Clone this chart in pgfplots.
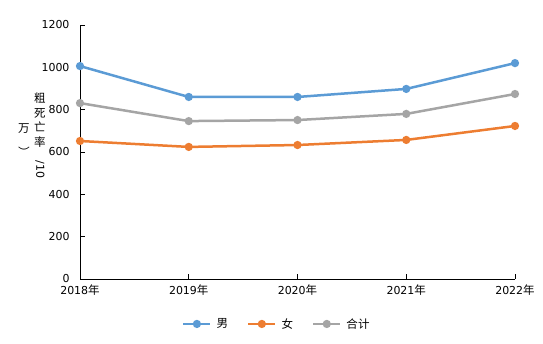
\documentclass[border=0pt]{standalone}
\usepackage{fontspec}
\setmainfont{DejaVu Sans}
\newfontfamily\cjk{Noto Sans CJK SC}[Scale=1.05]
\usepackage{pgfplots}
\pgfplotsset{compat=1.18}
\definecolor{cblue}{HTML}{5B9BD5}
\definecolor{corange}{HTML}{ED7D31}
\definecolor{cgray}{HTML}{A5A5A5}
\begin{document}
\begin{tikzpicture}
\useasboundingbox (-80bp,-65bp) rectangle (463bp,279bp);
\begin{axis}[
  at={(0,0)}, anchor=origin,
  scale only axis, width=435bp, height=254bp,
  xmin=0, xmax=4, ymin=0, ymax=1200,
  axis lines*=left,
  axis line style={black, line width=0.6pt},
  xtick={0,1,2,3,4},
  xticklabels={2018{\cjk 年},2019{\cjk 年},2020{\cjk 年},2021{\cjk 年},2022{\cjk 年}},
  ytick={0,200,400,600,800,1000,1200},
  major tick length=5bp,
  tick style={black, line width=0.6pt},
  tick align=inside,
  ticklabel style={font=\fontsize{11}{13}\selectfont},
  yticklabel style={xshift=-7bp},
  xticklabel style={yshift=-2bp},
  /pgf/number format/assume math mode=true,
  /pgf/number format/1000 sep={},
  clip=false,
  every axis plot/.append style={line width=2.5bp, mark=*, mark size=2.8bp},
  legend style={at={(0.456,-0.177)}, anchor=center, draw=none, legend columns=3,
    font=\fontsize{11}{13}\selectfont,
    /tikz/every even column/.append style={column sep=14bp},
    nodes={inner xsep=5bp}},
  legend image code/.code={
    \draw[#1, mark=none] (0cm,0cm) -- (0.95cm,0cm);
    \draw[#1, only marks] plot coordinates {(0.475cm,0cm)};
  },
]
\addplot[color=cblue] coordinates {(0,1006) (1,860) (2,860) (3,898) (4,1020)};
\addlegendentry{\cjk 男}
\addplot[color=corange] coordinates {(0,652) (1,624) (2,633) (3,657) (4,723)};
\addlegendentry{\cjk 女}
\addplot[color=cgray] coordinates {(0,831) (1,746) (2,751) (3,780) (4,874)};
\addlegendentry{\cjk 合计}
\end{axis}
\node[anchor=north, inner sep=0, align=center, font=\fontsize{11}{14.5}\selectfont\cjk]
  at (-40bp,186bp) {粗\\死\\亡\\率\\\rotatebox{-90}{\fontspec{DejaVu Sans}/10}};
\node[anchor=north, inner sep=0, align=center, font=\fontsize{11}{14.5}\selectfont\cjk]
  at (-56bp,156bp) {万\\\rotatebox{-90}{）}};
\end{tikzpicture}
\end{document}
